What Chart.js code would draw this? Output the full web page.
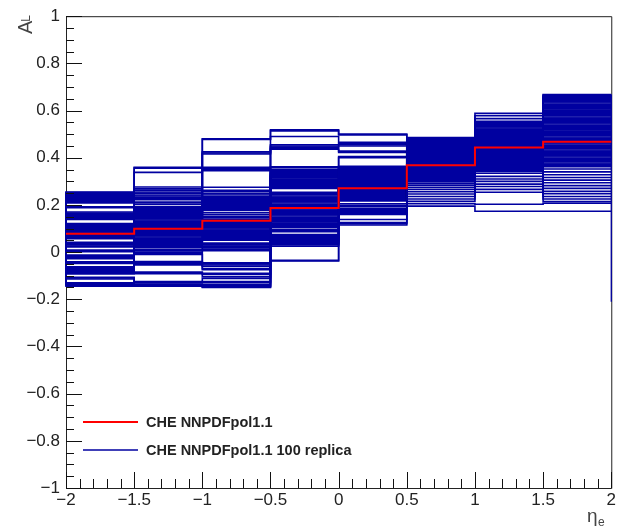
<!DOCTYPE html>
<html>
<head>
<meta charset="utf-8">
<script src="https://cdn.jsdelivr.net/npm/chart.js@4.4.1/dist/chart.umd.min.js"></script>
<style>
  html, body { margin: 0; padding: 0; background: #ffffff; }
  #wrap { width: 618px; height: 530px; }
</style>
</head>
<body>
<div id="wrap"><canvas id="c" width="618" height="530"></canvas></div>
<script>
// ---------------- DATA ----------------
const binEdges = [-2, -1.5, -1, -0.5, 0, 0.5, 1, 1.5, 2];
const xTickValues = [-2, -1.5, -1, -0.5, 0, 0.5, 1, 1.5, 2];
const yTickValues = [-1, -0.8, -0.6, -0.4, -0.2, 0, 0.2, 0.4, 0.6, 0.8, 1];
const seriesNames = ["CHE NNPDFpol1.1", "CHE NNPDFpol1.1 100 replica"];

// central prediction A_L per eta_e bin
const centralAL = [0.078, 0.099, 0.133, 0.187, 0.271, 0.368, 0.443, 0.468];

// replica values per bin
const replicasBin1 = [
  -0.145, -0.141, -0.137, -0.133, -0.130, -0.114, -0.110, -0.107,
  -0.093, -0.089, -0.085, -0.081, -0.077, -0.073, -0.069, -0.065, -0.062,
  -0.048, -0.044, -0.041, -0.028, -0.024, -0.020, -0.016, -0.012,
  0.002, 0.006, 0.009, 0.022, 0.026, 0.030, 0.034, 0.038, 0.042,
  0.057, 0.061, 0.065, 0.069, 0.073, 0.077, 0.081, 0.085, 0.089, 0.093,
  0.097, 0.101, 0.105, 0.109, 0.113, 0.117, 0.121,
  0.138, 0.142, 0.146, 0.150, 0.154, 0.158, 0.162, 0.166, 0.170,
  0.188, 0.192, 0.208, 0.212, 0.216, 0.220, 0.224, 0.228, 0.232, 0.236,
  0.240, 0.244, 0.248, 0.252, 0.255, 0.079, 0.087, 0.095, 0.111, 0.119];
const replicasBin2 = [
  0.360, 0.356, 0.338, 0.276, 0.268, 0.262, 0.255, 0.250, 0.242, 0.238,
  0.232, 0.226, 0.222, 0.212, 0.208, 0.202,
  0.192, 0.188, 0.184, 0.180, 0.176, 0.172, 0.168, 0.164, 0.160, 0.156,
  0.152, 0.148, 0.144, 0.140, 0.136, 0.132, 0.128, 0.124, 0.120, 0.116,
  0.112, 0.108, 0.104, 0.100, 0.096, 0.092, 0.088, 0.084, 0.080, 0.076,
  0.072, 0.068, 0.064, 0.060, 0.056, 0.052, 0.048, 0.044, 0.040, 0.036,
  0.032, 0.028, 0.024, 0.020,
  0.012, 0.006, 0.000, -0.006, -0.010, -0.040, -0.045, -0.050, -0.054, -0.085,
  -0.088, -0.092, -0.125, -0.128, -0.130, -0.135, -0.138, -0.140, -0.142, -0.145];
const replicasBin3 = [
  0.480, 0.478, 0.425, 0.420, 0.416, 0.360, 0.355, 0.350, 0.345, 0.275,
  0.262, 0.256, 0.248, 0.242,
  0.234, 0.230, 0.226, 0.222, 0.218, 0.214, 0.210, 0.206, 0.202, 0.198,
  0.194, 0.190, 0.186, 0.182, 0.178,
  0.168, 0.160, 0.152, 0.145, 0.138,
  0.130, 0.126, 0.122, 0.118, 0.114, 0.110, 0.106, 0.102, 0.098, 0.094,
  0.090, 0.086, 0.082, 0.078, 0.074, 0.070, 0.066, 0.062, 0.058, 0.054, 0.050,
  0.038, 0.034, 0.030, 0.026, 0.022, 0.018, 0.012, 0.006,
  -0.045, -0.050, -0.055, -0.060, -0.070, -0.075, -0.090, -0.095, -0.105,
  -0.112, -0.125, -0.130, -0.138, -0.143, -0.146, -0.148, -0.150];
const replicasBin4 = [
  0.518, 0.514, 0.490, 0.455, 0.450, 0.445, 0.440, 0.436, 0.362, 0.358,
  0.350, 0.346, 0.342, 0.338, 0.334, 0.330, 0.326, 0.322, 0.318, 0.314,
  0.310, 0.306, 0.302, 0.298, 0.294, 0.290, 0.286, 0.282, 0.278, 0.274, 0.270,
  0.253, 0.248, 0.243, 0.238, 0.233, 0.228, 0.223, 0.218, 0.213, 0.208,
  0.203, 0.198, 0.193, 0.188, 0.183, 0.178, 0.173, 0.168, 0.163, 0.158,
  0.153, 0.148, 0.143, 0.138, 0.133, 0.128, 0.123, 0.118, 0.113, 0.108, 0.103,
  0.095, 0.091, 0.086, 0.074, 0.070, 0.066, 0.062, 0.058, 0.054, 0.050,
  0.046, 0.042, 0.038, 0.034, 0.030, 0.025, -0.035, -0.038];
const replicasBin5 = [
  0.500, 0.497, 0.465, 0.460, 0.455, 0.450, 0.428, 0.422, 0.405, 0.400,
  0.364, 0.3605, 0.357, 0.3535, 0.350, 0.3465, 0.343, 0.3395, 0.336, 0.3325,
  0.329, 0.3255, 0.322, 0.3185, 0.315, 0.3115, 0.308, 0.3045, 0.301, 0.2975,
  0.294, 0.2905, 0.287, 0.2835, 0.280, 0.2765, 0.273, 0.2695, 0.266, 0.2625,
  0.259, 0.2555, 0.252, 0.2485, 0.245, 0.2415, 0.238, 0.2345, 0.231, 0.2275,
  0.224, 0.2205, 0.217,
  0.205, 0.198, 0.192, 0.185,
  0.180, 0.176, 0.172, 0.168, 0.164, 0.160,
  0.138, 0.125, 0.120, 0.115,
  0.362, 0.355, 0.348, 0.341, 0.334, 0.327, 0.320, 0.313, 0.306, 0.299,
  0.292, 0.285, 0.278];
const replicasBin6 = [
  0.195, 0.205, 0.215, 0.225, 0.236, 0.246, 0.256, 0.266, 0.275, 0.284,
  0.292, 0.298, 0.303, 0.307, 0.311, 0.314, 0.317, 0.320, 0.323, 0.326,
  0.329, 0.332, 0.335, 0.338, 0.341, 0.344, 0.347, 0.350, 0.353, 0.356,
  0.359, 0.362, 0.365, 0.368, 0.371, 0.374, 0.377, 0.380, 0.383, 0.386,
  0.389, 0.392, 0.395, 0.398, 0.401, 0.404, 0.407, 0.410, 0.413, 0.416,
  0.419, 0.422, 0.425, 0.428, 0.431, 0.434, 0.437, 0.440, 0.443, 0.446,
  0.449, 0.452, 0.455, 0.458, 0.461, 0.464, 0.467, 0.470, 0.472, 0.474,
  0.476, 0.477, 0.478, 0.479, 0.480, 0.481, 0.482, 0.483, 0.484, 0.486];
const replicasBin7 = [
  0.173, 0.203, 0.254, 0.266, 0.278, 0.288, 0.300, 0.310, 0.321, 0.334,
  0.342, 0.345, 0.348, 0.351, 0.354, 0.357, 0.360, 0.363, 0.366, 0.369,
  0.372, 0.375, 0.378, 0.381, 0.384, 0.387, 0.390, 0.393, 0.396, 0.399,
  0.402, 0.405, 0.408, 0.411, 0.414, 0.417, 0.420, 0.423, 0.426, 0.429,
  0.432, 0.435, 0.438, 0.441, 0.444, 0.447, 0.450, 0.453, 0.456, 0.459,
  0.462, 0.465, 0.468, 0.471, 0.474, 0.477, 0.480, 0.483, 0.486, 0.489,
  0.492, 0.495, 0.498, 0.502, 0.506, 0.510, 0.514, 0.518, 0.522, 0.526,
  0.530, 0.534, 0.538, 0.542, 0.546, 0.550, 0.554, 0.566, 0.578, 0.588];
const replicasBin8 = [
  0.173, 0.207, 0.214, 0.225, 0.236, 0.248, 0.258, 0.270, 0.282, 0.294,
  0.305, 0.316, 0.328, 0.340, 0.352, 0.362, 0.368, 0.373, 0.378, 0.383,
  0.388, 0.393, 0.398, 0.403, 0.408, 0.413, 0.418, 0.423, 0.428, 0.433,
  0.438, 0.443, 0.448, 0.453, 0.458, 0.463, 0.468, 0.473, 0.478, 0.483,
  0.488, 0.493, 0.498, 0.503, 0.508, 0.513, 0.518, 0.523, 0.528, 0.533,
  0.538, 0.543, 0.548, 0.553, 0.558, 0.563, 0.568, 0.573, 0.578, 0.583,
  0.588, 0.592, 0.597, 0.602, 0.607, 0.612, 0.617, 0.622, 0.627, 0.632,
  0.636, 0.640, 0.644, 0.648, 0.652, 0.655, 0.658, 0.662, 0.665, 0.668];

// histogram outline baselines
const leftEdgeBaseline = [0];
const rightEdgeLow = [-0.21];

// ---------------- BUILD ----------------
const replicaBins = [replicasBin1, replicasBin2, replicasBin3, replicasBin4,
                     replicasBin5, replicasBin6, replicasBin7, replicasBin8]
  .map(b => [...b].sort((p, q) => p - q));
const nReplicas = Math.min(...replicaBins.map(b => b.length));
const RED = '#ff0000';
const BLUE = '#0000a0';
const FONT = '"Liberation Sans", Arial, Helvetica, sans-serif';

function fmt(v) {
  const r = Math.round(v * 10) / 10;
  if (r === 0) return '0';
  return (r < 0 ? '\u2212' : '') + String(Math.abs(r));
}

const datasets = [];
{
  const pts = centralAL.map((v, k) => ({ x: binEdges[k], y: v }));
  pts.push({ x: binEdges[binEdges.length - 1], y: centralAL[centralAL.length - 1] });
  datasets.push({ label: seriesNames[0], data: pts, borderColor: RED, borderWidth: 2,
    stepped: true, pointRadius: 0, fill: false, order: 0, clip: false });
}
{
  const last = replicaBins[7];
  datasets.push({ label: 'edge', data: [
      { x: binEdges[8], y: Math.max(...last) },
      { x: binEdges[8], y: rightEdgeLow[0] }],
    borderColor: BLUE, borderWidth: 1.3, pointRadius: 0, fill: false, order: 1, clip: false });
}
for (let i = 0; i < nReplicas; i++) {
  const pts = [{ x: binEdges[0], y: leftEdgeBaseline[0] }];
  for (let k = 0; k < replicaBins.length; k++) pts.push({ x: binEdges[k], y: replicaBins[k][i] });
  pts.push({ x: binEdges[8], y: replicaBins[7][i] });
  datasets.push({ label: seriesNames[1], data: pts, borderColor: BLUE, borderWidth: 1.6,
    stepped: true, pointRadius: 0, fill: false, order: 2, clip: false });
}

// ---------------- PLUGINS ----------------
const rootAxes = {
  id: 'rootAxes',
  beforeDatasetsDraw(chart) {
    const { ctx, chartArea: a } = chart;
    ctx.save();
    ctx.strokeStyle = '#222';
    ctx.lineWidth = 1;
    ctx.beginPath();
    ctx.moveTo(a.left + 0.5, a.bottom + 0.5);
    ctx.lineTo(a.left + 0.5, a.top + 0.5);
    ctx.lineTo(a.right + 0.5, a.top + 0.5);
    ctx.lineTo(a.right + 0.5, a.bottom + 0.5);
    ctx.lineTo(a.left + 0.5, a.bottom + 0.5);
    ctx.stroke();
    ctx.restore();
  },
  afterDatasetsDraw(chart) {
    const { ctx, chartArea: a, scales } = chart;
    const xs = scales.x, ys = scales.y;
    ctx.save();
    ctx.strokeStyle = '#111';
    ctx.lineWidth = 1;
    ctx.beginPath();
    for (let k = 0; k <= 40; k++) {
      const v = -1 + k * 0.05;
      const py = Math.round(ys.getPixelForValue(v)) + 0.5;
      const len = (k % 4 === 0) ? 16 : 8;
      ctx.moveTo(a.left, py); ctx.lineTo(a.left + len, py);
    }
    for (let k = 0; k <= 40; k++) {
      const v = -2 + k * 0.1;
      const px = Math.round(xs.getPixelForValue(v)) + 0.5;
      const len = (k % 5 === 0) ? 16 : 9;
      ctx.moveTo(px, a.bottom); ctx.lineTo(px, a.bottom - len);
    }
    ctx.stroke();

    ctx.fillStyle = '#444';
    ctx.save();
    ctx.translate(32, 34);
    ctx.rotate(-Math.PI / 2);
    ctx.font = '20px ' + FONT;
    ctx.textBaseline = 'alphabetic';
    ctx.textAlign = 'left';
    ctx.fillText('A', 0, 0);
    const wA = ctx.measureText('A').width;
    ctx.font = '12px ' + FONT;
    ctx.fillText('L', wA - 1, -2);
    ctx.restore();
    ctx.font = '19px ' + FONT;
    ctx.textAlign = 'left';
    ctx.textBaseline = 'alphabetic';
    ctx.fillText('\u03B7', 587, 522);
    ctx.font = '12px ' + FONT;
    ctx.fillText('e', 598, 526);

    const lx0 = 83, lx1 = 138, tx = 146;
    const rows = [{ y: 422, c: RED, w: 2, t: seriesNames[0] }, { y: 450, c: BLUE, w: 1.5, t: seriesNames[1] }];
    ctx.font = 'bold 14.5px ' + FONT;
    ctx.textBaseline = 'middle';
    rows.forEach(r => {
      ctx.strokeStyle = r.c; ctx.lineWidth = r.w;
      ctx.beginPath(); ctx.moveTo(lx0, r.y); ctx.lineTo(lx1, r.y); ctx.stroke();
      ctx.fillStyle = '#222';
      ctx.fillText(r.t, tx, r.y + 1);
    });
    ctx.restore();
  }
};

new Chart(document.getElementById('c'), {
  type: 'line',
  data: { datasets },
  options: {
    responsive: false,
    animation: false,
    devicePixelRatio: 1,
    events: [],
    layout: { padding: { left: 0, right: 6, top: 11, bottom: 0 } },
    plugins: { legend: { display: false }, tooltip: { enabled: false } },
    elements: { line: { tension: 0 } },
    scales: {
      x: {
        type: 'linear', min: -2, max: 2,
        grid: { display: false, drawTicks: false }, border: { display: false },
        afterBuildTicks(s) { s.ticks = xTickValues.map(v => ({ value: v })); },
        afterFit(s) { s.height = 42; },
        ticks: { autoSkip: false, maxRotation: 0, padding: 2, color: '#222',
          font: { family: FONT, size: 17 }, callback: v => fmt(v) }
      },
      y: {
        type: 'linear', min: -1, max: 1,
        grid: { display: false, drawTicks: false }, border: { display: false },
        afterBuildTicks(s) { s.ticks = yTickValues.map(v => ({ value: v })); },
        afterFit(s) { s.width = 66; },
        ticks: { autoSkip: false, padding: 6, color: '#222',
          font: { family: FONT, size: 17 }, callback: v => fmt(v) }
      }
    }
  },
  plugins: [rootAxes]
});
</script>
</body>
</html>
